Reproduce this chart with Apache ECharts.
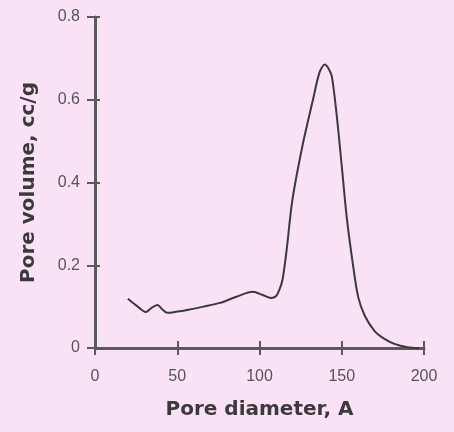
<!DOCTYPE html>
<html>
<head>
<meta charset="utf-8">
<script src="https://cdn.jsdelivr.net/npm/echarts@6/dist/echarts.min.js"></script>
<style>
html, body { margin: 0; padding: 0; background: #fae2f6; }
#chart { width: 454px; height: 432px; }
</style>
</head>
<body>
<div id="chart"></div>
<script>
// pore size distribution
var diameters = [20, 25, 31, 34, 38, 41, 44, 50, 56, 66, 76, 86, 96, 102, 107, 110, 112, 114, 116.5, 120, 126.5, 132.5, 136.5, 139.7, 142, 144, 147, 150, 153, 157, 160, 164, 170, 176, 182, 190, 197];
var volumes = [0.119, 0.103, 0.087, 0.096, 0.104, 0.093, 0.085, 0.088, 0.092, 0.100, 0.109, 0.124, 0.136, 0.128, 0.121, 0.125, 0.14, 0.165, 0.237, 0.358, 0.496, 0.60, 0.666, 0.685, 0.675, 0.656, 0.56, 0.44, 0.317, 0.196, 0.123, 0.078, 0.041, 0.022, 0.01, 0.002, 0];

var points = diameters.map(function (d, i) { return [d, volumes[i]]; });

var myChart = echarts.init(document.getElementById('chart'));

var axisColor = '#5a5a5a';
var labelStyle = { color: '#555', fontSize: 16, fontFamily: 'Liberation Sans' };
var nameStyle = { color: '#3a3a3a', fontSize: 20, fontWeight: 'bold', fontFamily: 'DejaVu Sans' };
var tickStyle = { color: axisColor, width: 2 };

var option = {
    backgroundColor: '#fae2f6',
    animation: false,
    grid: { left: 95, right: 30, top: 17, bottom: 84 },
    xAxis: [{
        type: 'value',
        min: 0, max: 200, interval: 50,
        name: 'Pore diameter, A',
        nameLocation: 'middle',
        nameGap: 52,
        nameTextStyle: nameStyle,
        axisLine: { lineStyle: { color: axisColor, width: 3 } },
        axisTick: { length: 7, lineStyle: tickStyle },
        axisLabel: Object.assign({ margin: 21 }, labelStyle),
        splitLine: { show: false }
    }, {
        // second copy only to draw the inner half of the ticks
        type: 'value',
        position: 'bottom',
        min: 0, max: 200, interval: 50,
        axisLine: { show: false },
        axisTick: { inside: true, length: 7, lineStyle: tickStyle },
        axisLabel: { show: false },
        splitLine: { show: false }
    }],
    yAxis: [{
        type: 'value',
        min: 0, max: 0.8, interval: 0.2,
        name: 'Pore volume, cc/g',
        nameLocation: 'middle',
        nameGap: 56,
        nameTextStyle: nameStyle,
        axisLine: { show: true, lineStyle: { color: axisColor, width: 3 } },
        axisTick: { show: true, length: 8, lineStyle: tickStyle },
        axisLabel: Object.assign({ margin: 15 }, labelStyle),
        splitLine: { show: false }
    }, {
        type: 'value',
        position: 'left',
        min: 0, max: 0.8, interval: 0.2,
        axisLine: { show: false },
        axisTick: { show: true, inside: true, length: 5, lineStyle: tickStyle },
        axisLabel: { show: false },
        splitLine: { show: false }
    }],
    series: [{
        type: 'line',
        data: points,
        smooth: 0.3,
        showSymbol: false,
        lineStyle: { color: '#3a3a3a', width: 2 }
    }]
};

myChart.setOption(option);
</script>
</body>
</html>
